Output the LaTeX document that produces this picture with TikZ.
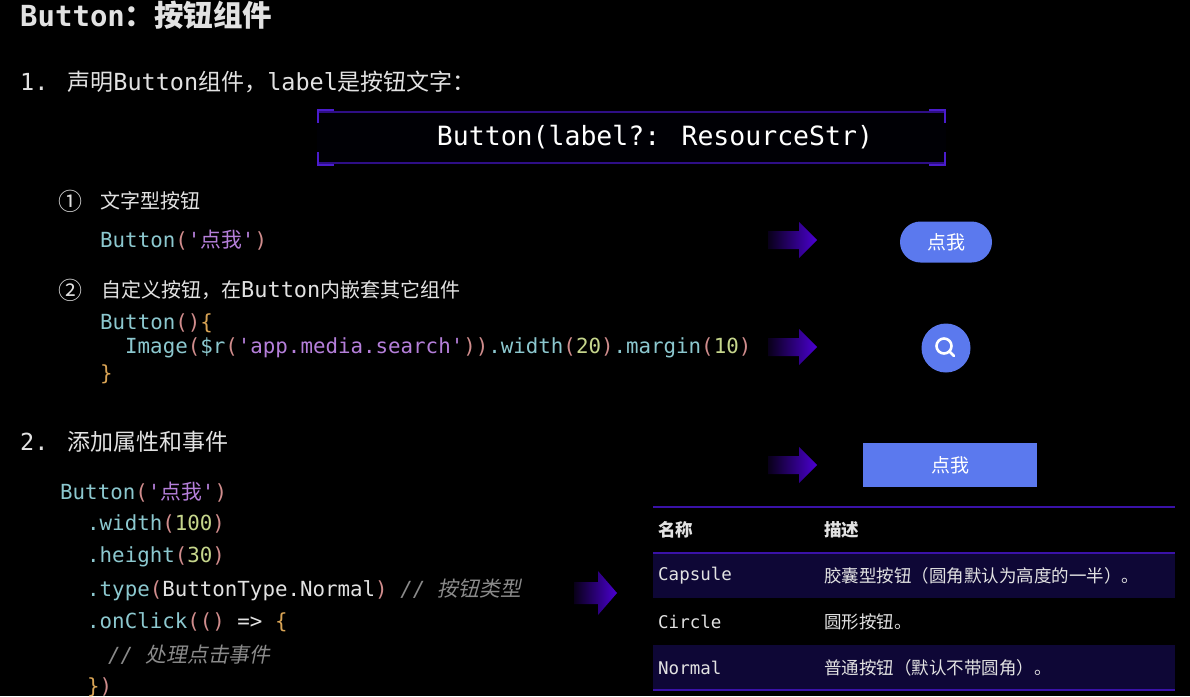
\documentclass[tikz,border=0pt]{standalone}
\usepackage{fontspec}
\newfontfamily\mono{DejaVu Sans Mono}
\newfontfamily\cjk{Noto Sans CJK SC}
\newfontfamily\cjkit{Noto Sans CJK SC}[FakeSlant=0.2]
\definecolor{fg}{HTML}{E2E2E2}
\definecolor{cteal}{HTML}{8CC8CF}
\definecolor{cparen}{HTML}{D08C8C}
\definecolor{cstr}{HTML}{B57FDA}
\definecolor{cnum}{HTML}{C6D68C}
\definecolor{cbrace}{HTML}{D9A455}
\definecolor{ccom}{HTML}{8A8A8A}
\definecolor{btnblue}{HTML}{5B79EE}
\definecolor{arrowc}{HTML}{4B00D2}
\definecolor{linepurple}{HTML}{3A12A8}
\definecolor{rowband}{HTML}{0E0736}
\definecolor{bracketc}{HTML}{4A1CCC}
\newcommand\cP[1]{\textcolor{cparen}{#1}}
\newcommand\cS[1]{\textcolor{cstr}{#1}}
\newcommand\cN[1]{\textcolor{cnum}{#1}}
\newcommand\cB[1]{\textcolor{cbrace}{#1}}
\newcommand\cW[1]{\textcolor{fg}{#1}}
\newcommand\cC[1]{\textcolor{ccom}{\itshape #1}}
\begin{document}
\begin{tikzpicture}[x=1pt,y=-1pt,
  txt/.style={anchor=west, inner sep=0pt, text=fg, font=\mono\fontsize{23.5}{28}\selectfont},
  sub/.style={txt, font=\mono\fontsize{21.9}{26}\selectfont},
  code/.style={txt, text=cteal, font=\mono\fontsize{20.8}{24}\selectfont},
  tab/.style={txt, font=\mono\fontsize{17.5}{21}\selectfont},
  arrowfill/.style={left color=arrowc!12!black, right color=arrowc},
  btn/.style={fill=btnblue, text=white, inner sep=0pt, font=\cjk\fontsize{19}{22}\selectfont}
]
\useasboundingbox (0,0) rectangle (1190,696);
\fill[black] (0,0) rectangle (1190,696);

% title
\node[txt, font=\mono\bfseries\fontsize{29}{32}\selectfont] (title) at (20,15)
  {Button{\cjk\bfseries\fontsize{29.5}{32}\selectfont ：按钮组件}};

% section 1
\node[txt] (s1) at (20,82) {1. {\cjk\fontsize{23}{28}\selectfont 声明}Button{\cjk\fontsize{23}{28}\selectfont 组件，}label{\cjk\fontsize{23}{28}\selectfont 是按钮文字：}};

% signature box
\fill[black!98!blue] (317,110) rectangle (946,165);
\draw[linepurple!80!black, line width=2pt] (317,112) -- (946,112);
\draw[linepurple!80!black, line width=2pt] (317,163) -- (946,163);
\draw[bracketc, line width=2pt] (334,110) -- (318,110) -- (318,123);
\draw[bracketc, line width=2pt] (318,152) -- (318,165) -- (334,165);
\draw[bracketc, line width=2pt] (929,110) -- (945,110) -- (945,123);
\draw[bracketc, line width=2pt] (945,152) -- (945,165) -- (929,165);
\node[inner sep=0pt, text=white, font=\mono\fontsize{26.5}{30}\selectfont] (sig) at (655,137) {Button(label?: ResourceStr)};

% item 1
\node[txt, font=\cjk\fontsize{24}{28}\selectfont] (n1) at (58,201) {①};
\node[txt, font=\cjk\fontsize{20}{24}\selectfont] (t1) at (100,201) {文字型按钮};
\node[code] (c1) at (100,240) {Button\cP{(}\cS{'{\cjk 点我}'}\cP{)}};

% item 2
\node[txt, font=\cjk\fontsize{24}{28}\selectfont] (n2) at (58,290) {②};
\node[sub] (t2) at (101,290) {{\cjk\fontsize{20}{24}\selectfont 自定义按钮，在}Button{\cjk\fontsize{20}{24}\selectfont 内嵌套其它组件}};
\node[code] (c2a) at (100,323) {Button\cP{()}\cB{\{}};
\node[code] (c2b) at (125,348) {Image\cP{(}\$r\cP{(}\cS{'app.media.search'}\cP{))}.width\cP{(}\cN{20}\cP{)}.margin\cP{(}\cN{10}\cP{)}};
\node[code] (c2c) at (100,374) {\cB{\}}};

% section 2
\node[txt] (s2) at (20,442) {2. {\cjk\fontsize{23}{28}\selectfont 添加属性和事件}};
\node[code] (d1) at (60,492) {Button\cP{(}\cS{'{\cjk 点我}'}\cP{)}};
\node[code] (d2) at (87,524) {.width\cP{(}\cN{100}\cP{)}};
\node[code] (d3) at (87,557) {.height\cP{(}\cN{30}\cP{)}};
\node[code] (d4) at (87,590) {.type\cP{(}\cW{ButtonType.Normal}\cP{)} \cC{// {\cjkit 按钮类型}}};
\node[code] (d5) at (87,622) {.onClick\cP{(()} \cW{=>} \cB{\{}};
\node[code] (d6) at (108,655) {\cC{// {\cjkit 处理点击事件}}};
\node[code] (d7) at (87,687) {\cB{\}}\cP{)}};

% arrows
\shade[arrowfill] (768,231) -- (799,231) -- (799,222) -- (817,240) -- (799,258) -- (799,249) -- (768,249) -- cycle;
\shade[arrowfill] (768,338) -- (799,338) -- (799,329) -- (817,347) -- (799,365) -- (799,356) -- (768,356) -- cycle;
\shade[arrowfill] (768,456) -- (799,456) -- (799,447) -- (817,465) -- (799,483) -- (799,474) -- (768,474) -- cycle;
\shade[arrowfill] (574,582) -- (598,582) -- (598,571) -- (617,593) -- (598,615) -- (598,604) -- (574,604) -- cycle;

% result buttons
\node[btn, rounded corners=20.5pt, minimum width=92pt, minimum height=41pt] (b1) at (946,242) {点我};
\node[btn, circle, minimum size=49pt] (b2) at (946,348) {};
\draw[white, line width=2.6pt] ([shift={(-2,-2)}]b2.center) circle[radius=7.5pt];
\draw[white, line width=2.6pt, line cap=round] ([shift={(3.5,3.5)}]b2.center) -- ([shift={(8,8)}]b2.center);
\node[btn, minimum width=174pt, minimum height=44pt] (b3) at (950,465) {点我};

% table
\fill[rowband] (653,552) rectangle (1175,598);
\fill[rowband] (653,645) rectangle (1175,690);
\draw[linepurple, line width=1.8pt] (653,507) -- (1175,507);
\draw[linepurple, line width=1.8pt] (653,553) -- (1175,553);
\draw[linepurple, line width=1.8pt] (653,690) -- (1175,690);
\node[tab, font=\cjk\bfseries\fontsize{17.5}{21}\selectfont] (h1) at (658,530) {名称};
\node[tab, font=\cjk\bfseries\fontsize{17.5}{21}\selectfont] (h2) at (824,530) {描述};
\node[tab] (r1a) at (658,576) {Capsule};
\node[tab, font=\cjk\fontsize{17.5}{21}\selectfont] (r1b) at (824,576) {胶囊型按钮（圆角默认为高度的一半）。};
\node[tab] (r2a) at (658,622) {Circle};
\node[tab, font=\cjk\fontsize{17.5}{21}\selectfont] (r2b) at (824,622) {圆形按钮。};
\node[tab] (r3a) at (658,668) {Normal};
\node[tab, font=\cjk\fontsize{17.5}{21}\selectfont] (r3b) at (824,668) {普通按钮（默认不带圆角）。};
\end{tikzpicture}
\end{document}
